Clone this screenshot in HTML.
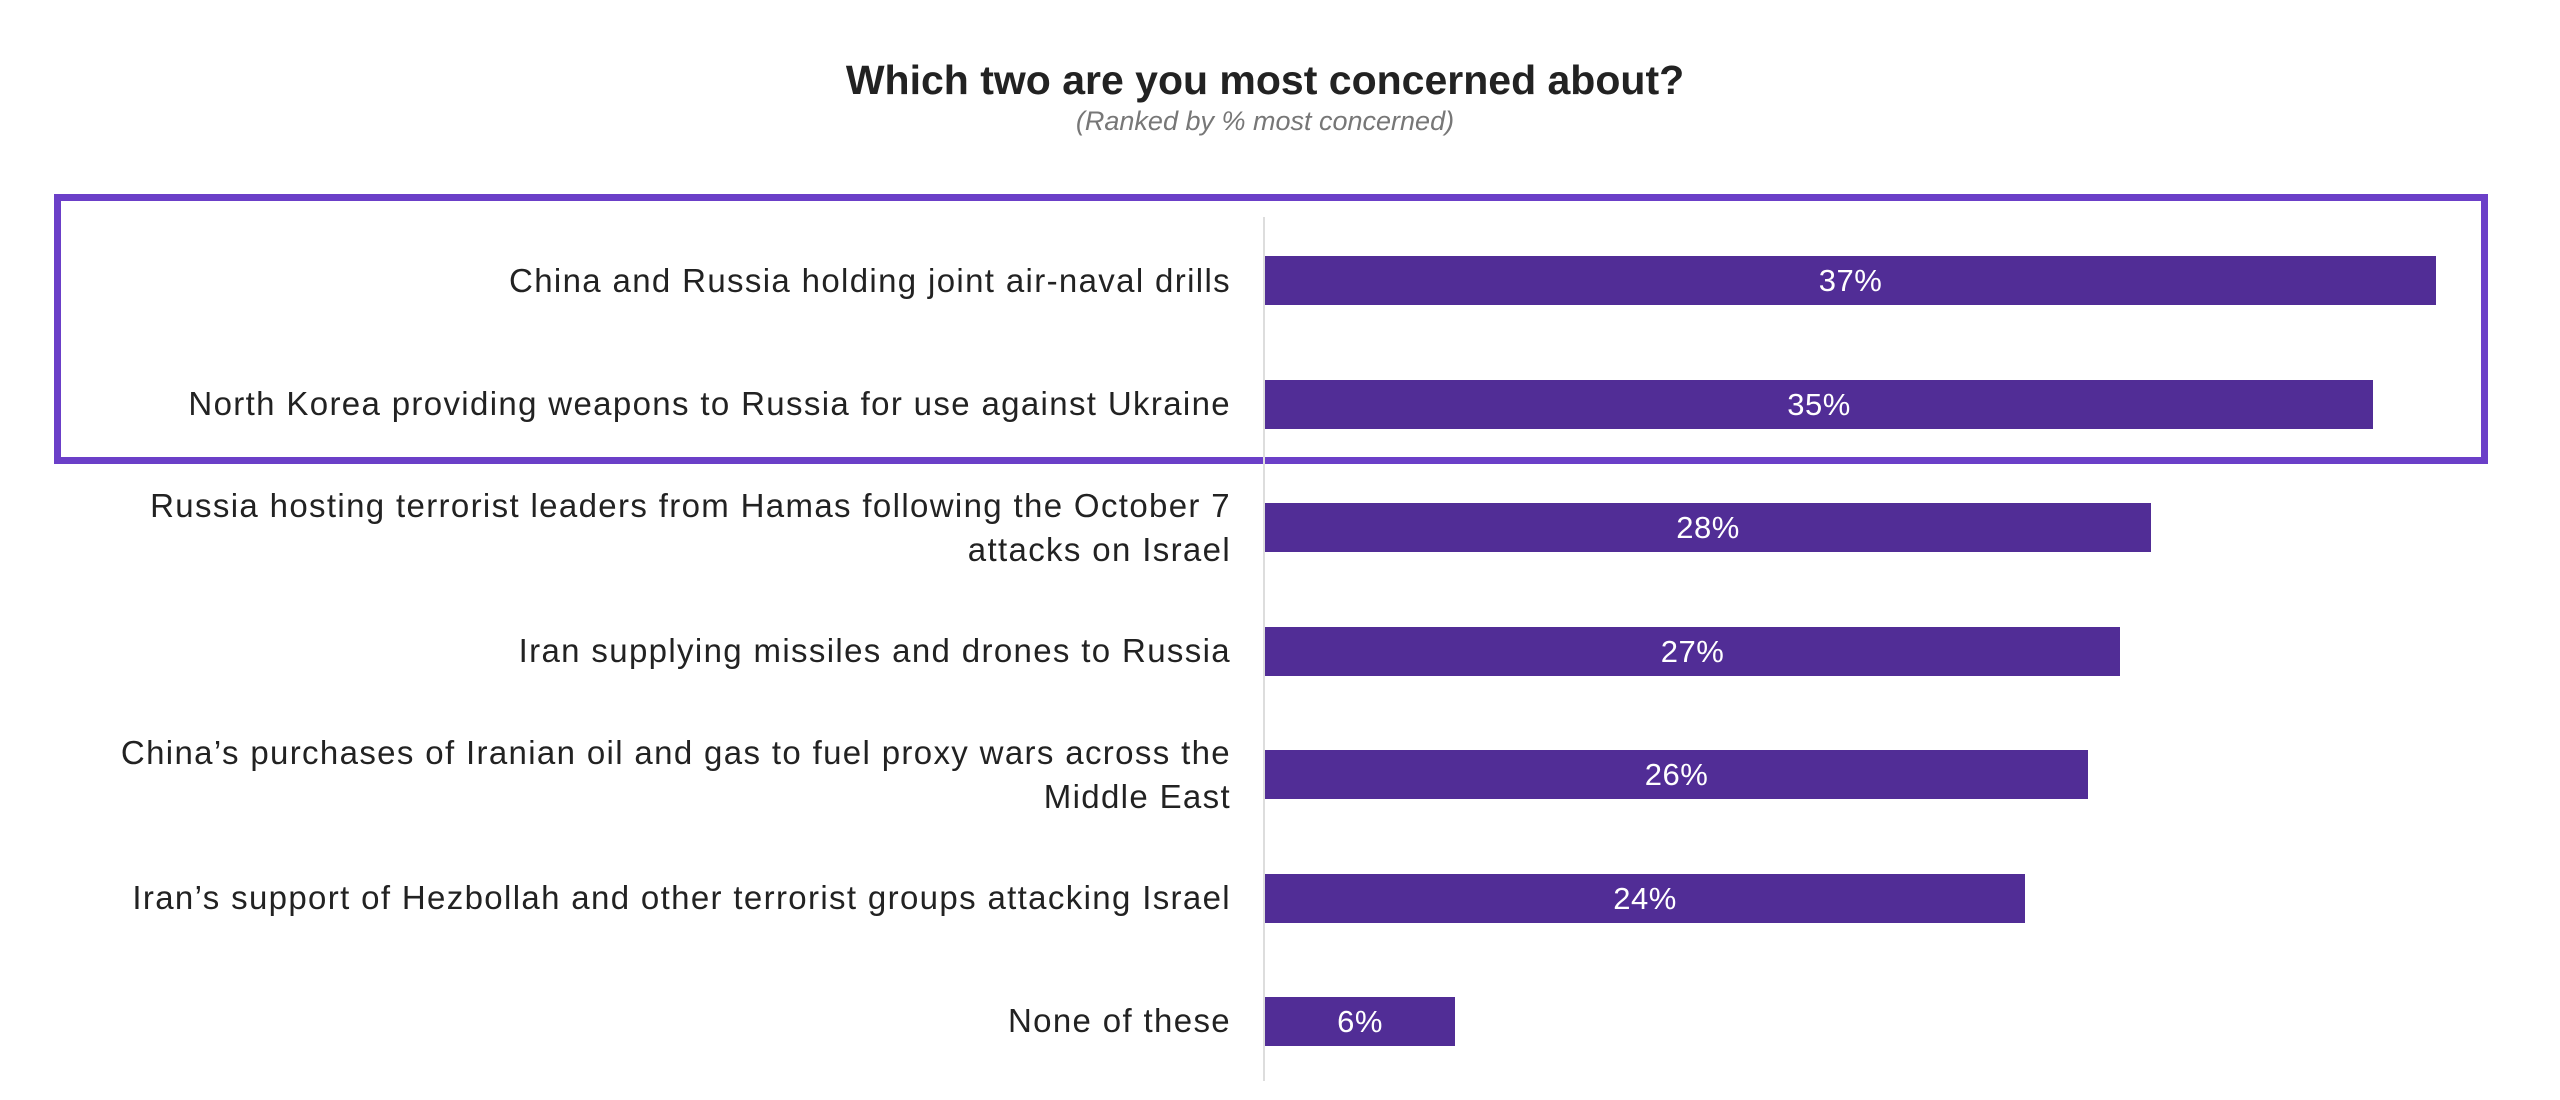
<!DOCTYPE html>
<html><head><meta charset="utf-8"><style>
body{margin:0;width:2560px;height:1100px;background:#fff;position:relative;overflow:hidden;font-family:"Liberation Sans",sans-serif}
.t{position:absolute;left:0;width:2530px;text-align:center}
.box{position:absolute;left:54px;top:194px;width:2420px;height:256px;border:7px solid #6b3fc8}
.axis{position:absolute;left:1263px;top:217px;width:2px;height:864px;background:#ddd}
.bar{position:absolute;left:1265px;height:49px;background:#512d96;color:#fff;font-size:31px;letter-spacing:0.5px;display:flex;align-items:center;justify-content:center}
.lab{position:absolute;right:1329px;width:1260px;text-align:right;font-size:33px;letter-spacing:1.35px;color:#222;line-height:44px;transform:translateY(-50%)}
</style></head><body>
<div class="t" style="top:57px;font-size:41px;font-weight:bold;color:#222">Which two are you most concerned about?</div>
<div class="t" style="top:106px;font-size:27px;font-style:italic;color:#777">(Ranked by % most concerned)</div>
<div class="box"></div>
<div class="axis"></div>
<div class="lab" style="top:281px">China and Russia holding joint air-naval drills</div>
<div class="bar" style="top:256px;width:1171px">37%</div>
<div class="lab" style="top:404px">North Korea providing weapons to Russia for use against Ukraine</div>
<div class="bar" style="top:380px;width:1108px">35%</div>
<div class="lab" style="top:528px">Russia hosting terrorist leaders from Hamas following the October 7<br>attacks on Israel</div>
<div class="bar" style="top:503px;width:886px">28%</div>
<div class="lab" style="top:651px">Iran supplying missiles and drones to Russia</div>
<div class="bar" style="top:627px;width:855px">27%</div>
<div class="lab" style="top:775px">China’s purchases of Iranian oil and gas to fuel proxy wars across the<br>Middle East</div>
<div class="bar" style="top:750px;width:823px">26%</div>
<div class="lab" style="top:898px">Iran’s support of Hezbollah and other terrorist groups attacking Israel</div>
<div class="bar" style="top:874px;width:760px">24%</div>
<div class="lab" style="top:1021px">None of these</div>
<div class="bar" style="top:997px;width:190px">6%</div>
</body></html>
